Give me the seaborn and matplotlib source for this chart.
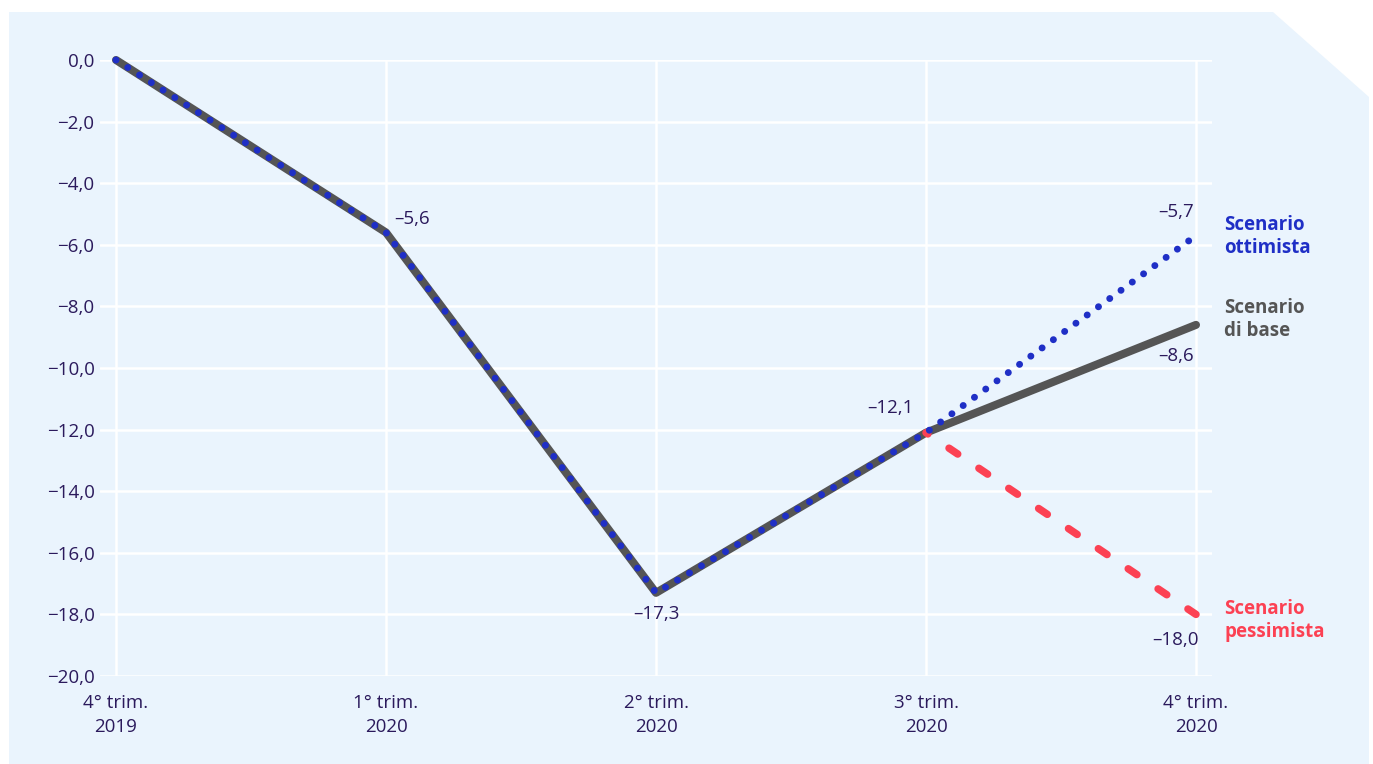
import matplotlib
matplotlib.use("Agg")
import matplotlib.pyplot as plt
from matplotlib.patches import Polygon
import seaborn as sns
import pandas as pd

# Quarter labels and scenario paths (% change vs 4th quarter 2019)
quarters = ["4° trim.\n2019", "1° trim.\n2020", "2° trim.\n2020", "3° trim.\n2020", "4° trim.\n2020"]
base = [0.0, -5.6, -17.3, -12.1, -8.6]
optimistic = [0.0, -5.6, -17.3, -12.1, -5.7]
pessimistic_q = [3, 4]
pessimistic = [-12.1, -18.0]
y_ticks = [0, -2, -4, -6, -8, -10, -12, -14, -16, -18, -20]

BG = "#eaf4fd"
TEXT = "#2b1a5c"
BLUE = "#1f2fc6"
GRAY = "#555555"
RED = "#fc4153"
FS = 13.5

sns.set_theme(style="white")
plt.rcParams["font.family"] = ["Open Sans", "DejaVu Sans"]

W, H = 1373, 764
fig = plt.figure(figsize=(W / 100, H / 100), dpi=100)
fig.patch.set_facecolor("white")

# Light panel with the clipped top-right corner
pts = [(9, 12), (1273, 12), (1369, 97), (1369, 764), (9, 764)]
fig.patches.append(Polygon([(x / W, 1 - y / H) for x, y in pts], closed=True,
                           transform=fig.transFigure, facecolor=BG,
                           edgecolor="none", zorder=-10))

ax = fig.add_axes([100 / W, 88 / H, (1212 - 100) / W, (676 - 60) / H])
ax.set_facecolor("none")

idx = list(range(len(quarters)))
df_base = pd.DataFrame({"q": idx, "v": base})
df_opt = pd.DataFrame({"q": idx, "v": optimistic})
df_pes = pd.DataFrame({"q": pessimistic_q, "v": pessimistic})

sns.lineplot(data=df_base, x="q", y="v", ax=ax, color=GRAY, linewidth=5.8,
             solid_capstyle="round", solid_joinstyle="round", clip_on=False, zorder=3)
sns.lineplot(data=df_pes, x="q", y="v", ax=ax, color=RED, linewidth=5.4,
             linestyle=(1.1, (1.4, 3.4)), dash_capstyle="round", clip_on=False, zorder=4)
sns.lineplot(data=df_opt, x="q", y="v", ax=ax, color=BLUE, linewidth=5.0,
             linestyle=(0, (0.01, 2.0)), dash_capstyle="round", clip_on=False, zorder=5)

ax.set_xlim(-16 / 270, 4 + 16 / 270)
ax.set_ylim(-20, 0)
ax.set_xticks(idx)
ax.set_xticklabels(quarters, linespacing=1.4)
ax.set_yticks(y_ticks)
ax.set_yticklabels([f"{v:.1f}".replace(".", ",").replace("-", "\u2212") for v in y_ticks])
ax.tick_params(axis="both", length=0, labelsize=FS, labelcolor=TEXT)
ax.tick_params(axis="y", pad=4)
ax.tick_params(axis="x", pad=13)
ax.set_xlabel("")
ax.set_ylabel("")
ax.grid(True, color="white", linewidth=1.8, zorder=1)
ax.set_axisbelow(True)
for s in ax.spines.values():
    s.set_visible(False)


def fmt(v):
    return f"{v:.1f}".replace(".", ",").replace("-", "\u2013")


def note(x, y, txt, dx, dy, ha, va="center", **kw):
    ax.annotate(txt, (x, y), xytext=(dx, dy), textcoords="offset pixels",
                ha=ha, va=va, fontsize=FS, annotation_clip=False, **kw)


note(1, base[1], fmt(base[1]), 8, 13, "left", color=TEXT)
note(2, base[2], fmt(base[2]), 0, -21, "center", color=TEXT)
note(3, base[3], fmt(base[3]), -12, 25, "right", color=TEXT)
note(4, optimistic[4], fmt(optimistic[4]), -2, 24, "right", color=TEXT)
note(4, base[4], fmt(base[4]), -2, -31, "right", color=TEXT)
note(4, pessimistic[1], fmt(pessimistic[1]), 3, -26, "right", color=TEXT)

note(4, optimistic[4], "Scenario\nottimista", 28, -1, "left", color=BLUE,
     fontweight="bold", linespacing=1.2)
note(4, base[4], "Scenario\ndi base", 28, 5, "left", color=GRAY,
     fontweight="bold", linespacing=1.2)
note(4, pessimistic[1], "Scenario\npessimista", 28, -6, "left", color=RED,
     fontweight="bold", linespacing=1.2)

fig.savefig("out.png", dpi=100, facecolor=fig.get_facecolor())
